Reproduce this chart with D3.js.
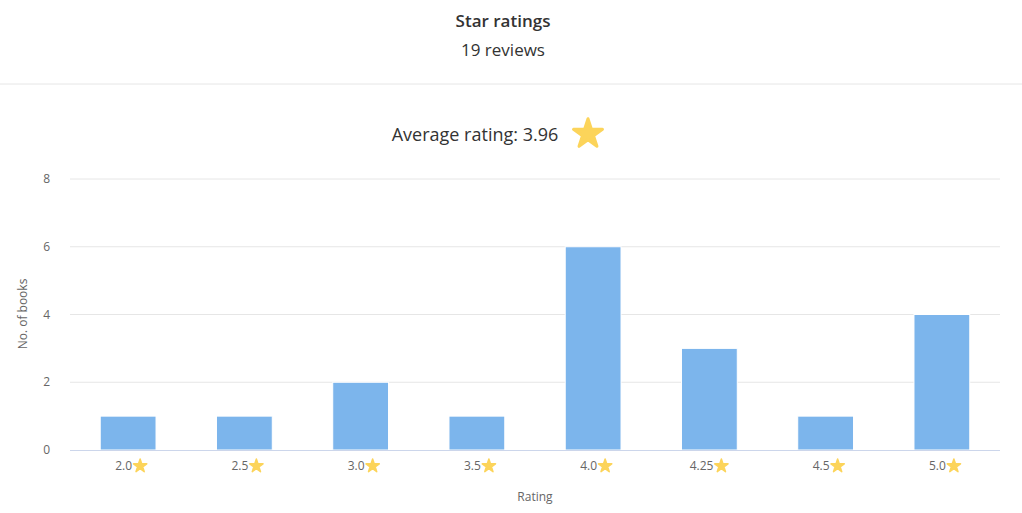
<!DOCTYPE html>
<html><head><meta charset="utf-8">
<script src="https://cdn.jsdelivr.net/npm/d3@7"></script>
<style>body{margin:0;background:#fff;font-family:"Open Sans",sans-serif;}</style>
</head><body>
<svg id="chart" width="1022" height="513"></svg>
<script>
const ratings = ["2.0", "2.5", "3.0", "3.5", "4.0", "4.25", "4.5", "5.0"];
const counts = [1, 1, 2, 1, 6, 3, 1, 4];
const yTicks = [0, 2, 4, 6, 8];
const reviewCount = 19;
const average = 3.96;

const svg = d3.select("#chart");
const x = d3.scaleBand().domain(ratings).range([70, 1000]).paddingInner(0.52).paddingOuter(0.26);
const y = d3.scaleLinear().domain([0, 8]).range([450, 179]);

svg.append("text").attr("x", 503).attr("y", 27).attr("text-anchor", "middle")
  .attr("font-size", 17).attr("font-weight", 600).attr("fill", "#333").text("Star ratings");
svg.append("text").attr("x", 503).attr("y", 56).attr("text-anchor", "middle")
  .attr("font-size", 17).attr("fill", "#333").text(reviewCount + " reviews");
svg.append("line").attr("x1", 0).attr("x2", 1022).attr("y1", 84).attr("y2", 84).attr("stroke", "#e6e6e6");

svg.append("text").attr("x", 475).attr("y", 141).attr("text-anchor", "middle")
  .attr("font-size", 18).attr("fill", "#333").text("Average rating: " + average);
const star = d3.symbol().type(d3.symbolStar);
svg.append("path").attr("d", star.size(260)()).attr("transform", "translate(588,134)")
  .attr("fill", "#fcd45a").attr("stroke", "#fcd45a").attr("stroke-width", 3).attr("stroke-linejoin", "round");

// grid
svg.append("g").selectAll("line").data(yTicks.filter(d => d > 0)).join("line")
  .attr("x1", 70).attr("x2", 1000).attr("y1", d => y(d)).attr("y2", d => y(d)).attr("stroke", "#e6e6e6");
svg.append("g").selectAll("text").data(yTicks).join("text")
  .attr("x", 50).attr("y", d => y(d) + 4).attr("text-anchor", "end")
  .attr("font-size", 12).attr("fill", "#666").text(d => d);

svg.append("g").selectAll("rect").data(counts).join("rect")
  .attr("x", (d, i) => x(ratings[i])).attr("width", x.bandwidth())
  .attr("y", d => y(d)).attr("height", d => y(0) - y(d))
  .attr("fill", "#7cb5ec").attr("stroke", "#fff").attr("stroke-width", 1);

svg.append("line").attr("x1", 70).attr("x2", 1000).attr("y1", 450.5).attr("y2", 450.5).attr("stroke", "#ccd6eb");

const xl = svg.append("g").selectAll("g").data(ratings).join("g")
  .attr("transform", d => `translate(${x(d) + x.bandwidth() / 2},470)`);
xl.append("text").attr("x", 4).attr("text-anchor", "end").attr("font-size", 12).attr("fill", "#666").text(d => d);
xl.append("path").attr("d", star.size(55)()).attr("transform", "translate(12,-4)")
  .attr("fill", "#fcd45a").attr("stroke", "#fcd45a").attr("stroke-width", 1.5).attr("stroke-linejoin", "round");

svg.append("text").attr("x", 535).attr("y", 501).attr("text-anchor", "middle")
  .attr("font-size", 12).attr("fill", "#666").text("Rating");
svg.append("text").attr("transform", "translate(27,314) rotate(-90)").attr("text-anchor", "middle")
  .attr("font-size", 12).attr("fill", "#666").text("No. of books");
</script>
</body></html>
